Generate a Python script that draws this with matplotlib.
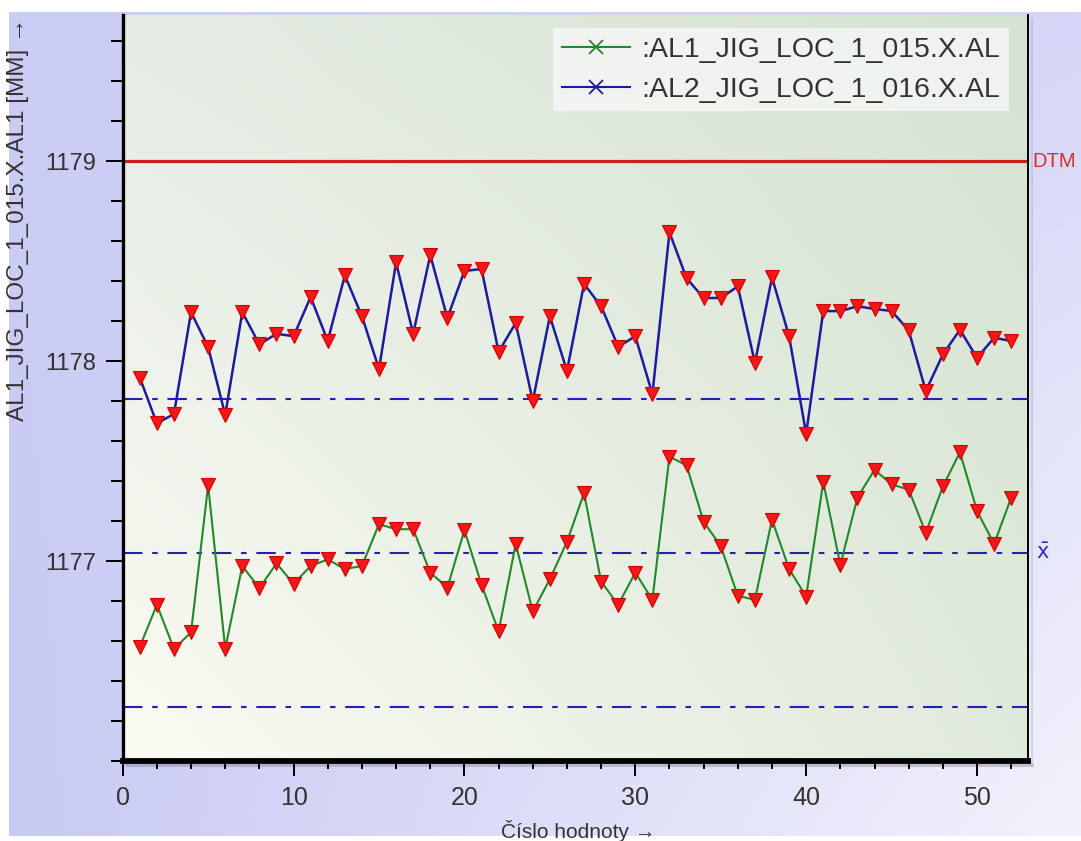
import numpy as np
import matplotlib
matplotlib.use("Agg")
import matplotlib.pyplot as plt
from matplotlib.lines import Line2D
from matplotlib.ticker import MultipleLocator, FixedLocator

plt.rcParams["lines.scale_dashes"] = False
plt.rcParams["font.family"] = ["Liberation Sans", "DejaVu Sans"]

# Measured values per sample number
sample_no = np.arange(1, 53)
al1_values = [
    1176.571, 1176.781, 1176.561, 1176.643, 1177.378, 1176.561, 1176.975, 1176.864,
    1176.988, 1176.886, 1176.975, 1177.008, 1176.960, 1176.975, 1177.184, 1177.159,
    1177.159, 1176.942, 1176.867, 1177.154, 1176.881, 1176.648, 1177.085, 1176.748,
    1176.909, 1177.096, 1177.340, 1176.897, 1176.781, 1176.942, 1176.806, 1177.522,
    1177.478, 1177.196, 1177.075, 1176.826, 1176.806, 1177.207, 1176.960, 1176.822,
    1177.395, 1176.980, 1177.317, 1177.456, 1177.383, 1177.357, 1177.141, 1177.373,
    1177.544, 1177.250, 1177.085, 1177.317,
]
al2_values = [
    1177.917, 1177.688, 1177.735, 1178.244, 1178.070, 1177.730, 1178.244, 1178.083,
    1178.136, 1178.124, 1178.320, 1178.100, 1178.428, 1178.224, 1177.960, 1178.493,
    1178.136, 1178.530, 1178.215, 1178.450, 1178.460, 1178.046, 1178.190, 1177.800,
    1178.224, 1177.950, 1178.385, 1178.274, 1178.071, 1178.124, 1177.834, 1178.643,
    1178.414, 1178.315, 1178.315, 1178.373, 1177.990, 1178.418, 1178.124, 1177.635,
    1178.250, 1178.249, 1178.274, 1178.260, 1178.250, 1178.153, 1177.850, 1178.033,
    1178.156, 1178.016, 1178.116, 1178.100,
]
series_names = [":AL1_JIG_LOC_1_015.X.AL", ":AL2_JIG_LOC_1_016.X.AL"]

dtm_value = 1179.0
center_line = 1177.04
upper_limit = 1177.81
lower_limit = 1176.27

x_major_ticks = [0, 10, 20, 30, 40, 50]
y_major_ticks = [1177, 1178, 1179]

W, H = 1081, 841
fig = plt.figure(figsize=(W / 100, H / 100), dpi=100)
fig.patch.set_facecolor("white")


def hex_rgb(h):
    h = h.lstrip("#")
    return np.array([int(h[i:i + 2], 16) / 255 for i in (0, 2, 4)])


def bilinear(tl, tr, bl, br, n=256):
    u = np.linspace(0, 1, n)[None, :, None]
    v = np.linspace(0, 1, n)[:, None, None]  # v=0 bottom
    tl, tr, bl, br = (hex_rgb(c)[None, None, :] for c in (tl, tr, bl, br))
    bottom = bl * (1 - u) + br * u
    top = tl * (1 - u) + tr * u
    return bottom * (1 - v) + top * v


# Lavender backdrop of the chart panel
bg = fig.add_axes([9 / W, 5 / H, 1 - 9 / W, 824 / H], zorder=-10)
bg.imshow(bilinear("#cbcdf5", "#d6d6f8", "#c9caf3", "#f2f2fc"),
          extent=[0, 1, 0, 1], aspect="auto", origin="lower")
bg.axis("off")

# Plot area
left, right = 122.7 / W, 1028.3 / W
bottom, top = 1 - 761 / H, 1 - 15 / H
rect = [left, bottom, right - left, top - bottom]

panel = fig.add_axes(rect, zorder=-5)
panel.imshow(bilinear("#e5ece4", "#d5e3d2", "#fbfbf3", "#e0eadc"),
             extent=[0, 1, 0, 1], aspect="auto", origin="lower")
panel.axis("off")

# Soft drop shadow under the frame
fig.add_artist(Line2D([126 / W, 1032 / W], [1 - 765 / H, 1 - 765 / H],
                      color="#707080", lw=2.2, alpha=0.35, zorder=0))
fig.add_artist(Line2D([1032 / W, 1032 / W], [1 - 765 / H, 1 - 20 / H],
                      color="#707080", lw=1.5, alpha=0.2, zorder=0))

ax = fig.add_axes(rect, zorder=1)
ax.set_facecolor("none")
ax.set_xlim(0, 53)
ax.set_ylim(1176.0, 1179.73)

# Reference lines
ax.axhline(dtm_value, color="#c8201e", lw=2.3, zorder=2)
dash = (0, (14, 7, 4, 7))
for yv in (upper_limit, center_line, lower_limit):
    ax.axhline(yv, color="#2222aa", lw=1.5, ls=dash, zorder=2)

# Series
ax.plot(sample_no, al1_values, color="#23882a", lw=1.5, zorder=3)
ax.plot(sample_no, al2_values, color="#1c1c9c", lw=1.8, zorder=3)
for vals in (al1_values, al2_values):
    ax.plot(sample_no, vals, ls="none", marker="v", ms=10,
            mfc="#f01818", mec="#d00000", mew=0.8, zorder=4)

# Spines
ax.spines["top"].set_visible(False)
ax.spines["left"].set_linewidth(2.4)
ax.spines["bottom"].set_linewidth(4.2)
ax.spines["right"].set_linewidth(1.4)
for s in ax.spines.values():
    s.set_color("black")

# Ticks
ax.xaxis.set_major_locator(FixedLocator(x_major_ticks))
ax.xaxis.set_minor_locator(MultipleLocator(2))
ax.yaxis.set_major_locator(FixedLocator(y_major_ticks))
ax.yaxis.set_minor_locator(MultipleLocator(0.2))
ax.tick_params(axis="y", which="major", length=12, width=1.4, pad=7,
               labelsize=17, labelcolor="#333333")
ax.tick_params(axis="y", which="minor", length=8.5, width=1.4)
ax.tick_params(axis="x", which="major", length=11, width=1.4, pad=7,
               labelsize=18, labelcolor="#333333")
ax.tick_params(axis="x", which="minor", length=6, width=1.4)

# Axis titles
fig.text(18 / W, 1 - 18 / H, "AL1_JIG_LOC_1_015.X.AL1 [MM] →", rotation=90,
         ha="center", va="top", fontsize=17.5, color="#333333")
fig.text(578 / W, 1 - 831 / H, "Číslo hodnoty →", ha="center", va="center",
         fontsize=15, color="#333333")

# Right-hand line labels
ax.text(1.005, dtm_value, "DTM", transform=ax.get_yaxis_transform(),
        ha="left", va="center", fontsize=14.5, color="#d03030")
ax.text(1.008, center_line, r"$\bar{\mathrm{x}}$", transform=ax.get_yaxis_transform(),
        ha="left", va="center", fontsize=15, color="#3030c0")

# Legend
handles = [
    Line2D([], [], color="#23882a", lw=1.5, marker="x", ms=10, mew=1.3),
    Line2D([], [], color="#1c1c9c", lw=1.5, marker="x", ms=10, mew=1.3),
]
leg = fig.legend(handles, series_names, loc="upper left",
                 bbox_to_anchor=(553 / W, 1 - 28 / H), bbox_transform=fig.transFigure,
                 frameon=True, fancybox=False, framealpha=0.75, edgecolor="none",
                 facecolor="#f8f8f8", handlelength=2.4,
                 handletextpad=0.4, labelspacing=0.5, borderpad=0.3,
                 borderaxespad=0, prop={"size": 20.5})
for t in leg.get_texts():
    t.set_color("#333333")

fig.savefig("out.png", dpi=100)
